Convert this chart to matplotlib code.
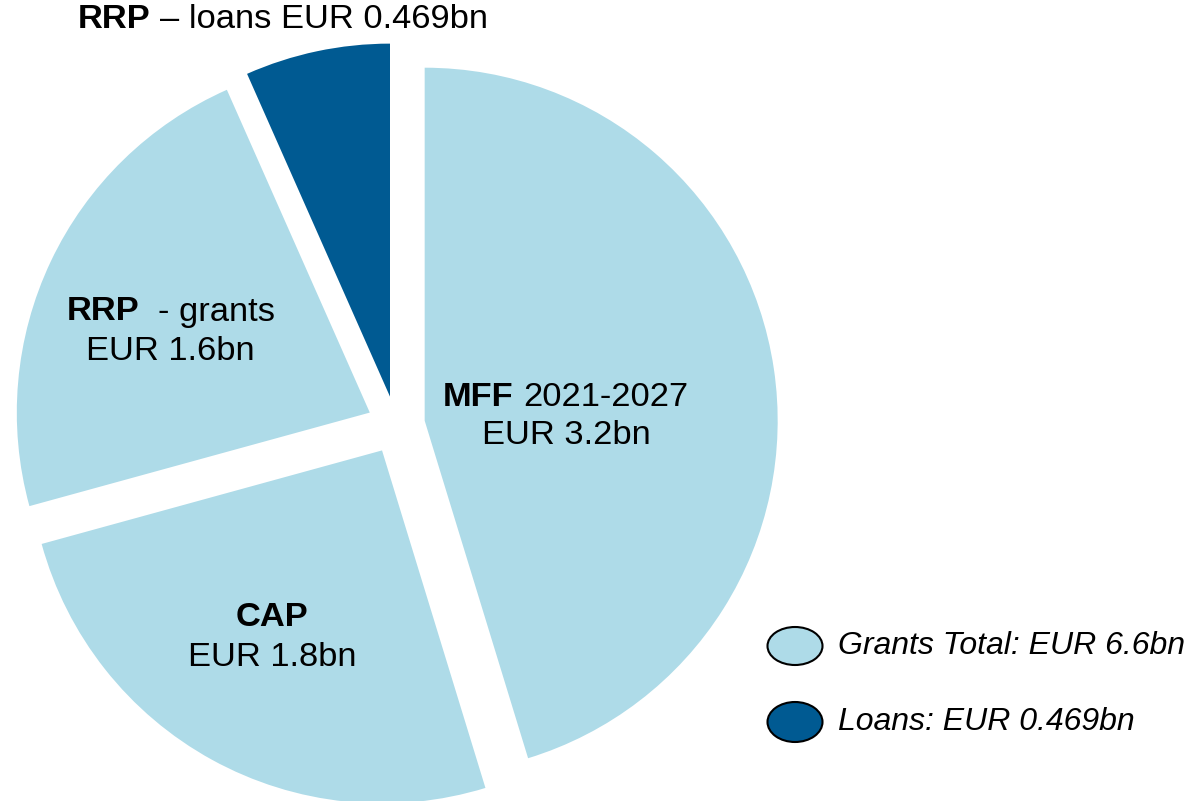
import matplotlib.pyplot as plt
from matplotlib.patches import Ellipse

plt.rcParams['font.family'] = ['Liberation Sans', 'DejaVu Sans']

# funding sources, EUR bn
sources = ['MFF', 'CAP', 'RRP grants', 'RRP loans']
amounts = [3.2, 1.8, 1.6, 0.469]
light = '#aedbe8'
dark = '#005a92'
colors = [light, light, light, dark]

legend_labels = ['Grants Total: EUR 6.6bn', 'Loans: EUR 0.469bn']

W, H = 1194, 801
fig = plt.figure(figsize=(W / 100, H / 100), dpi=100)
ax = fig.add_axes([0, 0, 1, 1])


def py(y):
    # pixel rows are counted from the top
    return H - y


# explode is in data units here (1 unit = 1 px)
ax.pie(amounts, colors=colors, startangle=90, counterclock=False,
       center=(396, py(425)), radius=353, explode=[29] * 4,
       wedgeprops=dict(linewidth=0), frame=True)
ax.set_xlim(0, W)
ax.set_ylim(0, H)
ax.axis('off')

fs = 24.8
# slice labels (bold part + regular part)
ax.text(78, py(20), 'RRP', fontsize=fs, fontweight='bold', va='center', ha='left')
ax.text(160, py(20), '– loans EUR 0.469bn', fontsize=fs, va='center', ha='left')

ax.text(67, py(312), 'RRP', fontsize=fs, fontweight='bold', va='center', ha='left')
ax.text(158, py(312), '- grants', fontsize=fs, va='center', ha='left')
ax.text(170, py(352), 'EUR 1.6bn', fontsize=fs, va='center', ha='center')

ax.text(443, py(397), 'MFF', fontsize=fs, fontweight='bold', va='center', ha='left')
ax.text(523, py(397), '2021-2027', fontsize=fs, va='center', ha='left')
ax.text(566, py(436), 'EUR 3.2bn', fontsize=fs, va='center', ha='center')

ax.text(272, py(618), 'CAP', fontsize=fs, fontweight='bold', va='center', ha='center')
ax.text(272, py(658), 'EUR 1.8bn', fontsize=fs, va='center', ha='center')

# legend with oval markers
for i, (lab, col) in enumerate(zip(legend_labels, [light, dark])):
    y = [646, 722][i]
    ax.add_patch(Ellipse((795, py(y)), 55, 38 + 2 * i, facecolor=col,
                         edgecolor='black', linewidth=1.5))
    ax.text(838, py(y), lab, fontsize=23, style='italic', va='center', ha='left')

fig.savefig('out.png', dpi=100)
